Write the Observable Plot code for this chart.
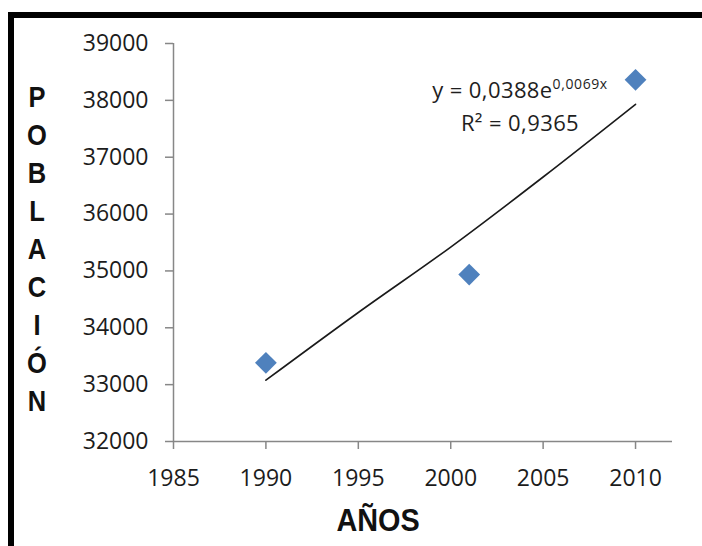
<!DOCTYPE html>
<html>
<head>
<meta charset="utf-8">
<script src="https://cdn.jsdelivr.net/npm/d3@7"></script>
<script src="https://cdn.jsdelivr.net/npm/@observablehq/plot@0.6"></script>
<style>
  html, body { margin: 0; padding: 0; background: #fff; }
  #wrap { position: relative; width: 702px; height: 546px; overflow: hidden; background: #fff; }
  #frame { position: absolute; left: 8px; top: 12px; width: 720px; height: 560px;
           border-left: 6px solid #000; border-top: 6px solid #000; box-sizing: border-box; }
  #chart { position: absolute; left: 0; top: 0; }
  .ylab { position: absolute; left: 22px; top: 78px; width: 30px; text-align: center;
          font-family: "Liberation Sans", sans-serif;
          font-weight: bold; font-size: 30px; line-height: 38px; color: #111;
          transform: scaleX(0.85); transform-origin: center top; }
  .ylab div { height: 38px; }
  .xlab { position: absolute; left: 278px; width: 200px; top: 500px; text-align: center;
          font-family: "Liberation Sans", sans-serif;
          font-weight: bold; font-size: 32px; line-height: 40px; color: #111;
          transform: scaleX(0.9); transform-origin: center top; }
  .eq { position: absolute; left: 400px; width: 240px; top: 73px; text-align: center;
        font-family: "Open Sans", sans-serif; font-size: 22px; line-height: 33px; color: #1e1e1e;
        letter-spacing: 0.4px; }
  .eq sup { font-size: 14px; vertical-align: 9px; line-height: 0; letter-spacing: 0.6px; }
</style>
</head>
<body>
<div id="wrap">
  <div id="frame"></div>
  <div id="chart"></div>
  <div class="ylab" id="ylab"></div>
  <div class="xlab" id="xlab"></div>
  <div class="eq" id="eq"></div>
</div>
<script>
// Data
const years = [1990, 2001, 2010];
const population = [33384, 34937, 38362];
const trendYears = [1990, 1995, 2000, 2005, 2010];
const trendValues = [33078, 34269, 35420, 36652, 37930];
const xTicks = [1985, 1990, 1995, 2000, 2005, 2010];
const yTicks = [32000, 33000, 34000, 35000, 36000, 37000, 38000, 39000];
const yTitle = "POBLACIÓN";
const xTitle = "AÑOS";
const eqMain = "y = 0,0388e";
const eqExp = "0,0069x";
const r2Label = "R² = 0,9365";

const points = years.map((x, i) => ({x, y: population[i]}));
const trend = trendYears.map((x, i) => ({x, y: trendValues[i]}));

const axisColor = "#878787";
const textColor = "#1c1c1c";

const chart = Plot.plot({
  width: 702,
  height: 546,
  marginLeft: 173,
  marginRight: 30,
  marginTop: 43,
  marginBottom: 105,
  style: {background: "transparent", fontFamily: "'Open Sans', sans-serif"},
  x: {domain: [1985, 2012]},
  y: {domain: [32000, 39000]},
  marks: [
    Plot.ruleX([1985], {stroke: axisColor, strokeWidth: 1.5}),
    Plot.ruleY([32000], {stroke: axisColor, strokeWidth: 1.5}),
    Plot.axisY(yTicks, {
      tickSize: 8, tickPadding: 17, stroke: axisColor, strokeWidth: 1.5,
      fill: textColor, fontSize: 23, label: null, tickFormat: d => String(d)
    }),
    Plot.axisX(xTicks, {
      tickSize: 8, tickPadding: 20, stroke: axisColor, strokeWidth: 1.5,
      fill: textColor, fontSize: 23, label: null, tickFormat: d => String(d)
    }),
    Plot.line(trend, {x: "x", y: "y", stroke: "#1a1a1a", strokeWidth: 1.6, curve: "catmull-rom"}),
    Plot.dot(points, {x: "x", y: "y", symbol: "diamond2", r: 9.8, fill: "#4F81BD", stroke: "none"})
  ]
});
document.getElementById("chart").appendChild(chart);

// Vertical stacked axis title
const ylab = document.getElementById("ylab");
for (const ch of yTitle) {
  const d = document.createElement("div");
  d.textContent = ch;
  ylab.appendChild(d);
}
document.getElementById("xlab").textContent = xTitle;

const eq = document.getElementById("eq");
const l1 = document.createElement("div");
l1.append(eqMain);
const sup = document.createElement("sup");
sup.textContent = eqExp;
l1.appendChild(sup);
const l2 = document.createElement("div");
l2.textContent = r2Label;
eq.appendChild(l1);
eq.appendChild(l2);
</script>
</body>
</html>
